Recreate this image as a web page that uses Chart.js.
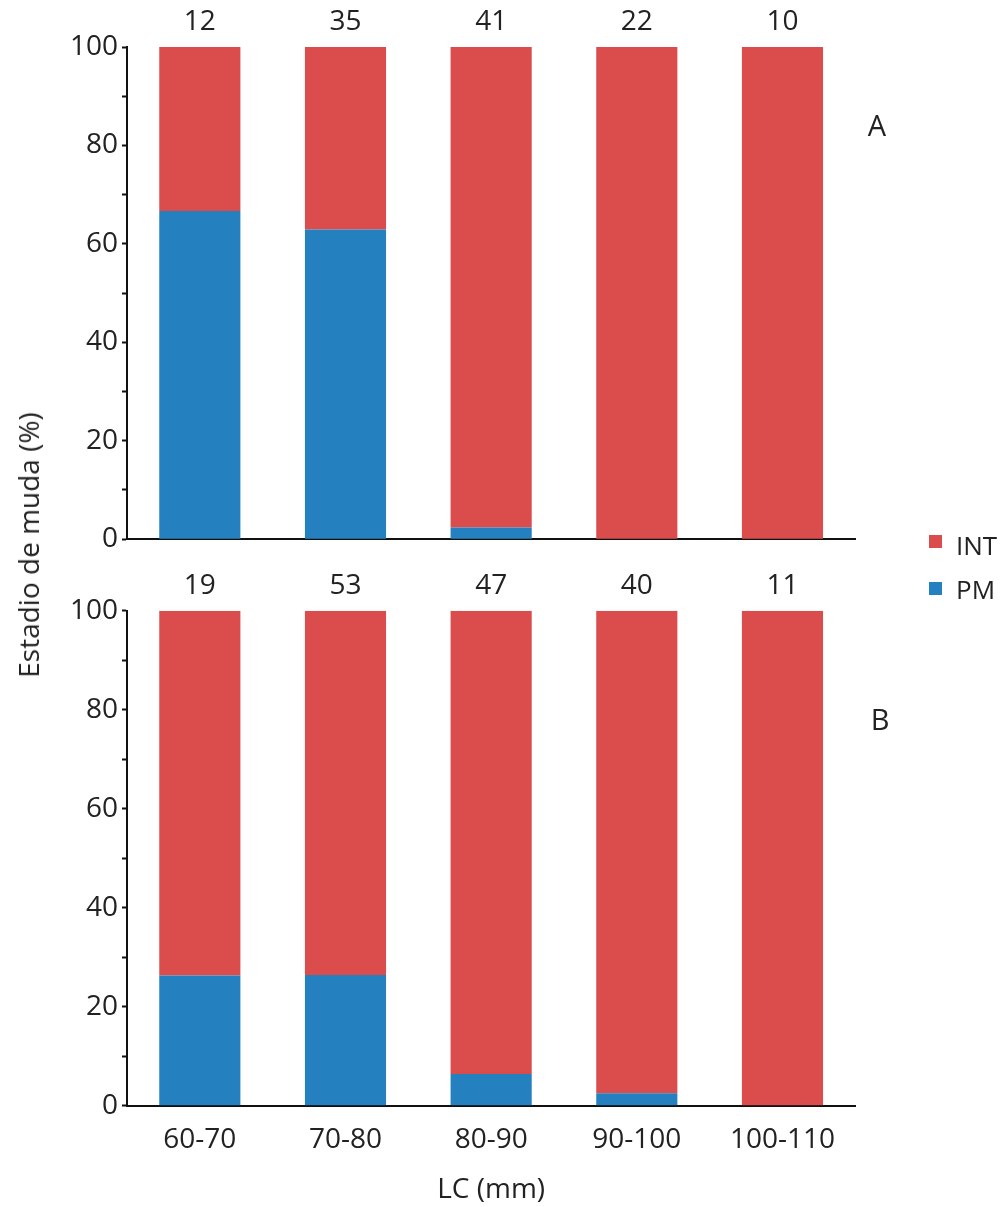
<!DOCTYPE html>
<html>
<head>
<meta charset="utf-8">
<script src="https://cdn.jsdelivr.net/npm/chart.js@4.4.1/dist/chart.umd.min.js"></script>
<style>
  html, body { margin: 0; padding: 0; background: #ffffff; }
  body { width: 1006px; height: 1207px; position: relative; overflow: hidden; font-family: "Open Sans", sans-serif; color: #222222; }
  .panel { position: absolute; left: 0; width: 1006px; }
  .txt { position: absolute; white-space: nowrap; line-height: 1; }
  .sw { position: absolute; width: 13px; height: 13px; }
</style>
</head>
<body>
<div class="panel" id="boxA" style="top:0px;height:560px;"><canvas id="chartA" width="1006" height="560"></canvas></div>
<div class="panel" id="boxB" style="top:560px;height:647px;"><canvas id="chartB" width="1006" height="647"></canvas></div>

<div class="txt" id="ytitle" style="left:28px;top:545px;font-size:28px;transform:translate(-50%,-50%) rotate(-90deg);">Estadio de muda (%)</div>
<div class="txt" id="labA" style="left:877px;top:124px;font-size:29px;transform:translate(-50%,-50%);">A</div>
<div class="txt" id="labB" style="left:880px;top:718px;font-size:29px;transform:translate(-50%,-50%);">B</div>

<div class="sw" style="left:929px;top:535px;background:#db4d4d;"></div>
<div class="txt" style="left:956px;top:545px;font-size:26px;transform:translateY(-50%);">INT</div>
<div class="sw" style="left:929px;top:582px;background:#2580c0;"></div>
<div class="txt" style="left:956px;top:589px;font-size:26px;transform:translateY(-50%);">PM</div>

<script>
// ---- data ----
const categories = ['60-70', '70-80', '80-90', '90-100', '100-110'];
const countsA = [12, 35, 41, 22, 10];
const countsB = [19, 53, 47, 40, 11];
const pmA  = [66.7, 62.9, 2.4, 0, 0];
const intA = [33.3, 37.1, 97.6, 100, 100];
const pmB  = [26.3, 26.4, 6.4, 2.5, 0];
const intB = [73.7, 73.6, 93.6, 97.5, 100];
const seriesNames = ['PM', 'INT'];
const seriesColors = ['#2580c0', '#db4d4d'];
const yMin = 0, yMax = 100, yStep = 10, yLabelStep = 20;

const FONT = '"Open Sans", sans-serif';
const TXT = '#222222';
const AX = '#111111';

function makeChart(canvasId, pm, int, counts, opts) {
  const ctx = document.getElementById(canvasId);
  return new Chart(ctx, {
    type: 'bar',
    data: {
      labels: categories,
      datasets: [
        { label: seriesNames[0], data: pm, backgroundColor: seriesColors[0], borderWidth: 0,
          barPercentage: 0.557, categoryPercentage: 1.0 },
        { label: seriesNames[1], data: int, backgroundColor: seriesColors[1], borderWidth: 0,
          barPercentage: 0.557, categoryPercentage: 1.0 }
      ]
    },
    options: {
      responsive: false,
      animation: false,
      devicePixelRatio: 1,
      layout: { padding: { left: 0, right: 150.7, top: 0, bottom: 0 } },
      plugins: { legend: { display: false }, tooltip: { enabled: false } },
      scales: {
        x: {
          type: 'category',
          stacked: true,
          offset: true,
          position: 'bottom',
          grid: { display: false, drawTicks: false, offset: true },
          border: { display: true, color: AX, width: 2 },
          ticks: {
            display: opts.showX,
            padding: 18,
            color: TXT,
            font: { family: FONT, size: 28 },
            maxRotation: 0, autoSkip: false
          },
          title: {
            display: opts.showX,
            text: 'LC (mm)',
            color: TXT,
            font: { family: FONT, size: 28 },
            padding: { top: 0, bottom: 0 }
          },
          afterFit: (s) => { s.height = opts.bottomH; }
        },
        xTop: {
          type: 'category',
          position: 'top',
          labels: counts.map(String),
          offset: true,
          grid: { display: false, drawTicks: false, offset: true },
          border: { display: false },
          ticks: {
            padding: 8,
            color: TXT,
            font: { family: FONT, size: 28 },
            maxRotation: 0, autoSkip: false
          },
          afterFit: (s) => { s.height = opts.topH; }
        },
        y: {
          stacked: true,
          min: yMin, max: yMax,
          grid: { display: true, drawOnChartArea: false, drawTicks: true, tickLength: 5, tickWidth: 2, tickColor: AX },
          border: { display: true, color: AX, width: 2 },
          ticks: {
            stepSize: yStep,
            padding: 4,
            color: TXT,
            font: { family: FONT, size: 28 },
            callback: (v) => (v % yLabelStep === 0 ? String(v) : '')
          },
          afterFit: (s) => { s.width = 127; }
        }
      }
    }
  });
}

makeChart('chartA', pmA, intA, countsA, { showX: false, topH: 47, bottomH: 18.5 });
makeChart('chartB', pmB, intB, countsB, { showX: true, topH: 50.7, bottomH: 101.3 });
</script>
</body>
</html>
